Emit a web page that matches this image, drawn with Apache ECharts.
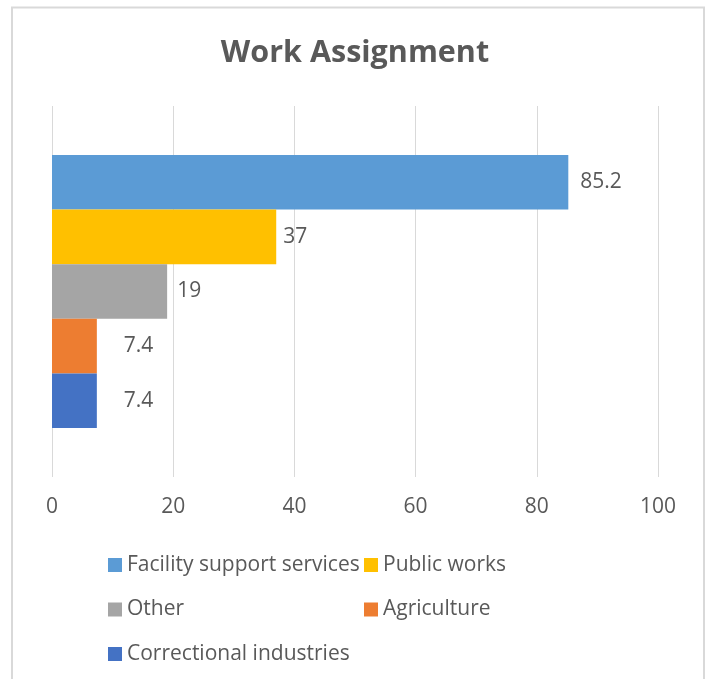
<!DOCTYPE html>
<html>
<head>
<meta charset="utf-8">
<script src="https://cdn.jsdelivr.net/npm/echarts@6/dist/echarts.min.js"></script>
<style>
html,body{margin:0;padding:0;background:#fff;}
#chart{width:710px;height:679px;}
</style>
</head>
<body>
<div id="chart"></div>
<script>
const seriesNames = ['Facility support services','Public works','Other','Agriculture','Correctional industries'];
const seriesValues = [85.2, 37, 19, 7.4, 7.4];
const seriesColors = ['#5B9BD5','#FFC000','#A5A5A5','#ED7D31','#4472C4'];
const labelDistances = [12, 7, 10, 27, 27];
const xTicks = {min: 0, max: 100, interval: 20};
const categories = [''];

const FONT = 'Open Sans';
const TEXT = '#595959';

const chart = echarts.init(document.getElementById('chart'), null, {renderer: 'canvas'});

const series = seriesNames.map((name, i) => ({
  name: name,
  type: 'bar',
  data: [seriesValues[i]],
  itemStyle: {color: seriesColors[i]},
  barGap: '0%',
  barCategoryGap: '26.4%',
  label: {
    show: true,
    position: 'right',
    distance: labelDistances[i],
    color: TEXT,
    fontFamily: FONT,
    fontSize: 21
  }
}));

const legendText = {color: TEXT, fontFamily: FONT, fontSize: 21, lineHeight: 21};

chart.setOption({
  animation: false,
  title: {
    text: 'Work Assignment',
    left: 'center',
    top: 33,
    textStyle: {fontFamily: FONT, fontSize: 30.5, fontWeight: 'bold', color: TEXT}
  },
  graphic: [{
    type: 'rect',
    shape: {x: 12, y: 7.5, width: 692, height: 720},
    style: {fill: 'none', stroke: '#d9d9d9', lineWidth: 2},
    silent: true
  }],
  grid: {left: 52, right: 52, top: 106, bottom: 202, containLabel: false},
  xAxis: {
    type: 'value',
    min: xTicks.min, max: xTicks.max, interval: xTicks.interval,
    axisLine: {show: false},
    axisTick: {show: false},
    splitLine: {show: true, lineStyle: {color: '#d9d9d9', width: 1}},
    axisLabel: {color: TEXT, fontFamily: FONT, fontSize: 21, margin: 20}
  },
  yAxis: {
    type: 'category',
    data: categories,
    axisLine: {show: false},
    axisTick: {show: false},
    axisLabel: {show: false}
  },
  legend: [
    {
      data: [seriesNames[0], seriesNames[2], seriesNames[4]],
      orient: 'vertical',
      left: 108, top: 554.5, padding: 0,
      itemWidth: 14, itemHeight: 14, itemGap: 23.5,
      icon: 'rect',
      selectedMode: false,
      textStyle: legendText
    },
    {
      data: [seriesNames[1], seriesNames[3]],
      orient: 'vertical',
      left: 364, top: 554.5, padding: 0,
      itemWidth: 14, itemHeight: 14, itemGap: 23.5,
      icon: 'rect',
      selectedMode: false,
      textStyle: legendText
    }
  ],
  series: series
});
</script>
</body>
</html>
